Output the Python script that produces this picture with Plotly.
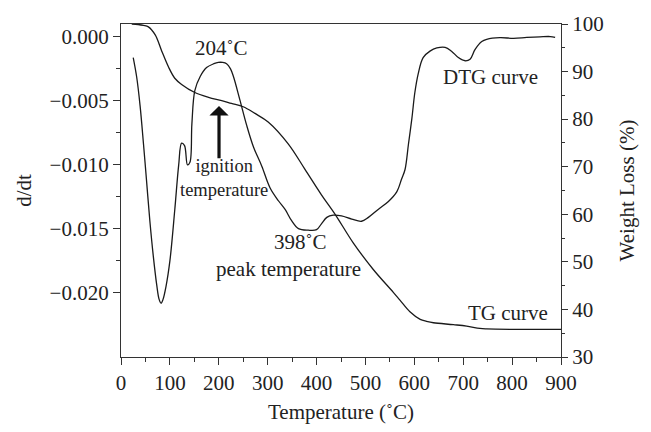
import plotly.graph_objects as go

# DTG curve (left axis, d/dt)
dtg_temp = [25, 32, 39, 46, 52.5, 59, 66, 73, 78, 82, 86, 92, 100, 110, 118, 124, 130, 136, 141,
            145, 151, 162, 175, 190, 199, 208, 216, 224, 230, 243, 257, 271, 288, 305, 322, 336, 349,
            363, 383, 400, 410, 421, 434, 451, 472, 492, 506, 526, 547, 564, 574, 581, 588, 595,
            601, 608, 618, 632, 646, 663, 676, 690, 704, 714, 724, 738, 748, 775, 803, 830, 857,
            878, 888]
dtg_val = [-0.00162, -0.00312, -0.00537, -0.00837, -0.01136, -0.01436, -0.0171, -0.01935, -0.0205,
           -0.0208, -0.0205, -0.0195, -0.0175, -0.0135, -0.0100, -0.0083, -0.0085, -0.0100, -0.0098,
           -0.0068, -0.0042, -0.0031, -0.0024, -0.0021, -0.0020, -0.0020, -0.0021, -0.0025, -0.0031,
           -0.0049, -0.0069, -0.0086, -0.0101, -0.0118, -0.0128, -0.0135, -0.01436, -0.01498,
           -0.0151, -0.01506, -0.0146, -0.0141, -0.01393, -0.01398, -0.01423, -0.0144, -0.0141,
           -0.01348, -0.01286, -0.01211, -0.0111, -0.01036, -0.00837, -0.00637, -0.00437, -0.00287,
           -0.00162, -0.00112, -0.00087, -0.00082, -0.00112, -0.00162, -0.00187, -0.00175, -0.0010,
           -0.00037, -0.0002, -0.00007, -0.00012, -0.00005, 0.0, 0.00002, -0.00005]

# TG curve (right axis, weight %)
tg_temp = [22, 35, 46, 56, 70, 83, 97, 110, 124, 151, 179, 206, 226, 250, 274, 301, 342, 376, 410,
           438, 475, 516, 557, 571, 591, 612, 625, 639, 680, 707, 734, 748, 816, 900]
tg_val = [100, 99.9, 99.7, 99.4, 97.7, 94.4, 91.0, 88.6, 87.3, 85.6, 84.6, 83.9, 83.3, 82.6, 81.2,
          79.4, 74.8, 69.5, 64.1, 60.0, 54.0, 48.4, 43.6, 41.9, 39.5, 37.9, 37.5, 37.2, 36.8, 36.5,
          36.0, 35.9, 35.8, 35.8]

x_ticks = [0, 100, 200, 300, 400, 500, 600, 700, 800, 900]
x_minor = [50, 150, 250, 350, 450, 550, 650, 750, 850]
y_ticks = [0.0, -0.005, -0.010, -0.015, -0.020]
y_minor = [-0.0025, -0.0075, -0.0125, -0.0175]
y2_ticks = [30, 40, 50, 60, 70, 80, 90, 100]
y2_minor = [35, 45, 55, 65, 75, 85, 95]

FONT = "Liberation Serif"
FS = 21
AX = "#333333"
TXT = "#222222"

fig = go.Figure()
fig.add_trace(go.Scatter(x=dtg_temp, y=dtg_val, mode="lines", line=dict(color="#1a1a1a", width=1.3),
                         line_shape="spline", showlegend=False, yaxis="y"))
fig.add_trace(go.Scatter(x=tg_temp, y=tg_val, mode="lines", line=dict(color="#1a1a1a", width=1.3),
                         line_shape="spline", showlegend=False, yaxis="y2"))

common = dict(showline=True, linecolor=AX, linewidth=1.2, ticks="outside", tickcolor=AX,
              tickwidth=1.2, showgrid=False, zeroline=False,
              tickfont=dict(family=FONT, size=FS, color=TXT))

fig.update_layout(
    width=651, height=432,
    margin=dict(l=121, r=90, t=12, b=73),
    paper_bgcolor="white", plot_bgcolor="white",
    font=dict(family=FONT, size=FS, color=TXT),
    xaxis=dict(range=[0, 900], tickmode="array", tickvals=x_ticks, ticklen=7, mirror=True,
               minor=dict(tickmode="array", tickvals=x_minor, ticklen=4, ticks="outside", tickcolor=AX),
               title=dict(text="Temperature (˚C)", font=dict(family=FONT, size=FS), standoff=10),
               **common),
    yaxis=dict(range=[-0.025, 0.001], tickmode="array", tickvals=y_ticks, tickformat=".3f", ticklen=7,
               minor=dict(tickmode="array", tickvals=y_minor, ticklen=4, ticks="outside", tickcolor=AX),
               title=dict(text="d/dt", font=dict(family=FONT, size=FS), standoff=12),
               **common),
    yaxis2=dict(range=[30, 100], overlaying="y", side="right", tickmode="array", tickvals=y2_ticks,
                ticklen=6, minor=dict(tickmode="array", tickvals=y2_minor, ticklen=3, ticks="outside",
                                      tickcolor=AX),
                title=dict(text="Weight Loss (%)", font=dict(family=FONT, size=FS), standoff=16),
                **common),
)

ann = dict(showarrow=False, font=dict(family=FONT, size=FS, color=TXT), xref="x", yref="y")
fig.add_annotation(text="204˚C", x=206, y=-0.0009, **ann)
fig.add_annotation(text="398˚C", x=368, y=-0.0160, **ann)
fig.add_annotation(text="peak temperature", x=343, y=-0.0181, **ann)
fig.add_annotation(text="DTG curve", x=755, y=-0.00315, **ann)
fig.add_annotation(text="TG curve", x=792, y=-0.02157, **ann)
fig.add_annotation(text="ignition<br>temperature", x=211, y=-0.0110, showarrow=False,
                   xref="x", yref="y", font=dict(family=FONT, size=18.5, color=TXT))
fig.add_annotation(x=200.5, y=-0.0054, ax=200.5, ay=-0.0096, xref="x", yref="y", axref="x", ayref="y",
                   showarrow=True, arrowhead=1, arrowsize=1.0, arrowwidth=3.2, arrowcolor="#111", text="")

fig.write_html("out.html")
